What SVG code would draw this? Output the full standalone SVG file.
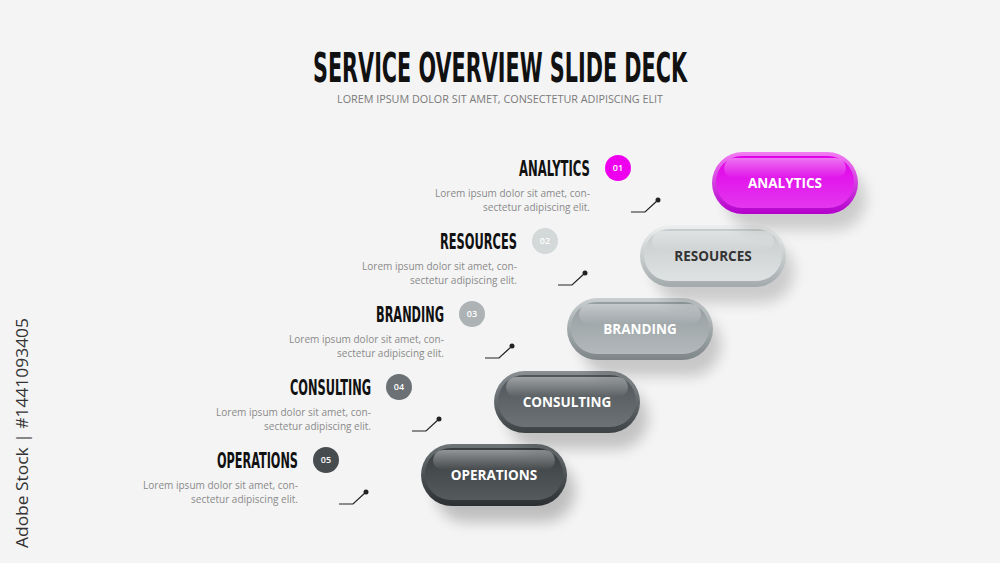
<svg xmlns="http://www.w3.org/2000/svg" width="1000" height="563" viewBox="0 0 1000 563">
<defs>
<style>
.title{font-family:"Liberation Sans Narrow","DejaVu Sans Condensed","Liberation Sans",sans-serif;font-weight:bold;fill:#111}
.sub{font-family:"Open Sans","Liberation Sans",sans-serif;font-size:10.5px;fill:#7a7a7a}
.head{font-family:"DejaVu Sans Condensed","DejaVu Sans",sans-serif;font-weight:bold;font-size:22px;fill:#111;text-anchor:end}
.desc{font-family:"Open Sans","Liberation Sans",sans-serif;font-size:10px;fill:#8a8a8a}
.num{font-family:"Open Sans","Liberation Sans",sans-serif;font-size:9px;font-weight:600;fill:#fff;text-anchor:middle}
.pl{font-family:"Open Sans","Liberation Sans",sans-serif;font-size:13.5px;font-weight:bold;text-anchor:middle}
.conn{fill:none;stroke:#222;stroke-width:1.2}
.wm{font-family:"Open Sans","Liberation Sans",sans-serif;font-size:16px;fill:#333}
</style>
<filter id="sh" x="-40%" y="-40%" width="200%" height="220%">
<feGaussianBlur stdDeviation="7"/>
</filter>
<linearGradient id="g1o" x1="0" y1="0" x2="0" y2="1"><stop offset="0" stop-color="#f27cf2"/><stop offset="1" stop-color="#b300cc"/></linearGradient>
<linearGradient id="g1i" x1="0" y1="0" x2="0" y2="1"><stop offset="0" stop-color="#e000e8"/><stop offset="1" stop-color="#e437ef"/></linearGradient>
<linearGradient id="g2o" x1="0" y1="0" x2="0" y2="1"><stop offset="0" stop-color="#eef0f0"/><stop offset="1" stop-color="#a3aaac"/></linearGradient>
<linearGradient id="g2i" x1="0" y1="0" x2="0" y2="1"><stop offset="0" stop-color="#c6cbcc"/><stop offset="1" stop-color="#dfe2e3"/></linearGradient>
<linearGradient id="g3o" x1="0" y1="0" x2="0" y2="1"><stop offset="0" stop-color="#c9cfd0"/><stop offset="1" stop-color="#7d8588"/></linearGradient>
<linearGradient id="g3i" x1="0" y1="0" x2="0" y2="1"><stop offset="0" stop-color="#959da0"/><stop offset="1" stop-color="#b3b9bb"/></linearGradient>
<linearGradient id="g4o" x1="0" y1="0" x2="0" y2="1"><stop offset="0" stop-color="#8a9093"/><stop offset="1" stop-color="#3c4144"/></linearGradient>
<linearGradient id="g4i" x1="0" y1="0" x2="0" y2="1"><stop offset="0" stop-color="#4f5558"/><stop offset="1" stop-color="#6c7275"/></linearGradient>
<linearGradient id="g5o" x1="0" y1="0" x2="0" y2="1"><stop offset="0" stop-color="#6e7477"/><stop offset="1" stop-color="#2b2f31"/></linearGradient>
<linearGradient id="g5i" x1="0" y1="0" x2="0" y2="1"><stop offset="0" stop-color="#3a3e41"/><stop offset="1" stop-color="#555a5d"/></linearGradient>
<linearGradient id="hl" x1="0" y1="0" x2="0" y2="1"><stop offset="0" stop-color="#fff" stop-opacity="0.45"/><stop offset="1" stop-color="#fff" stop-opacity="0"/></linearGradient>
</defs>
<rect width="1000" height="563" fill="#f4f4f4"/>
<text class="title" x="313" y="82" font-size="41" textLength="374" lengthAdjust="spacingAndGlyphs">SERVICE OVERVIEW SLIDE DECK</text>
<text class="sub" x="337" y="103" textLength="326" lengthAdjust="spacingAndGlyphs">LOREM IPSUM DOLOR SIT AMET, CONSECTETUR ADIPISCING ELIT</text>
<text class="wm" transform="translate(28,548) rotate(-90)" textLength="230" lengthAdjust="spacingAndGlyphs">Adobe Stock | #1441093405</text>

<g id="connectors">
<polyline class="conn" points="631,212 645,212 658,200"/><circle cx="658" cy="200" r="2.5" fill="#222"/>
<polyline class="conn" points="558,285 572,285 585,273"/><circle cx="585" cy="273" r="2.5" fill="#222"/>
<polyline class="conn" points="485,358 499,358 512,346"/><circle cx="512" cy="346" r="2.5" fill="#222"/>
<polyline class="conn" points="412,431 426,431 439,419"/><circle cx="439" cy="419" r="2.5" fill="#222"/>
<polyline class="conn" points="339,504 353,504 366,492"/><circle cx="366" cy="492" r="2.5" fill="#222"/>
</g>

<g id="label-01">
<text class="head" transform="translate(590,176) scale(0.57,1)" textLength="124.6" lengthAdjust="spacingAndGlyphs">ANALYTICS</text>
<circle cx="618" cy="168" r="13" fill="#ee00ee"/><text class="num" x="618" y="171">01</text>
<text class="desc" x="435" y="197" textLength="155" lengthAdjust="spacingAndGlyphs">Lorem ipsum dolor sit amet, con-</text>
<text class="desc" x="483" y="211" textLength="107" lengthAdjust="spacingAndGlyphs">sectetur adipiscing elit.</text>
</g>
<g id="label-02">
<text class="head" transform="translate(517,249) scale(0.57,1)" textLength="135.1" lengthAdjust="spacingAndGlyphs">RESOURCES</text>
<circle cx="545" cy="241" r="13" fill="#d3d8d9"/><text class="num" x="545" y="244">02</text>
<text class="desc" x="362" y="270" textLength="155" lengthAdjust="spacingAndGlyphs">Lorem ipsum dolor sit amet, con-</text>
<text class="desc" x="410" y="284" textLength="107" lengthAdjust="spacingAndGlyphs">sectetur adipiscing elit.</text>
</g>
<g id="label-03">
<text class="head" transform="translate(444,322) scale(0.57,1)" textLength="119.3" lengthAdjust="spacingAndGlyphs">BRANDING</text>
<circle cx="472" cy="314" r="13" fill="#adb3b5"/><text class="num" x="472" y="317">03</text>
<text class="desc" x="289" y="343" textLength="155" lengthAdjust="spacingAndGlyphs">Lorem ipsum dolor sit amet, con-</text>
<text class="desc" x="337" y="357" textLength="107" lengthAdjust="spacingAndGlyphs">sectetur adipiscing elit.</text>
</g>
<g id="label-04">
<text class="head" transform="translate(371,395) scale(0.57,1)" textLength="142.1" lengthAdjust="spacingAndGlyphs">CONSULTING</text>
<circle cx="399" cy="387" r="13" fill="#6b7174"/><text class="num" x="399" y="390">04</text>
<text class="desc" x="216" y="416" textLength="155" lengthAdjust="spacingAndGlyphs">Lorem ipsum dolor sit amet, con-</text>
<text class="desc" x="264" y="430" textLength="107" lengthAdjust="spacingAndGlyphs">sectetur adipiscing elit.</text>
</g>
<g id="label-05">
<text class="head" transform="translate(298,468) scale(0.57,1)" textLength="142.1" lengthAdjust="spacingAndGlyphs">OPERATIONS</text>
<circle cx="326" cy="460" r="13" fill="#474c4f"/><text class="num" x="326" y="463">05</text>
<text class="desc" x="143" y="489" textLength="155" lengthAdjust="spacingAndGlyphs">Lorem ipsum dolor sit amet, con-</text>
<text class="desc" x="191" y="503" textLength="107" lengthAdjust="spacingAndGlyphs">sectetur adipiscing elit.</text>
</g>

<g id="pill-05" transform="translate(421,444)">
<rect x="14" y="16" width="140" height="62" rx="31" fill="#000" opacity="0.22" filter="url(#sh)"/>
<rect width="146" height="62" rx="31" fill="url(#g5o)"/>
<rect x="4" y="4" width="138" height="52" rx="26" fill="url(#g5i)"/>
<rect x="12" y="6" width="122" height="20" rx="10" fill="url(#hl)"/>
<text class="pl" x="73" y="36" fill="#fff">OPERATIONS</text>
</g>
<g id="pill-04" transform="translate(494,371)">
<rect x="14" y="16" width="140" height="62" rx="31" fill="#000" opacity="0.2" filter="url(#sh)"/>
<rect width="146" height="62" rx="31" fill="url(#g4o)"/>
<rect x="4" y="4" width="138" height="52" rx="26" fill="url(#g4i)"/>
<rect x="12" y="6" width="122" height="20" rx="10" fill="url(#hl)"/>
<text class="pl" x="73" y="36" fill="#fff">CONSULTING</text>
</g>
<g id="pill-03" transform="translate(567,298)">
<rect x="14" y="16" width="140" height="62" rx="31" fill="#000" opacity="0.18" filter="url(#sh)"/>
<rect width="146" height="62" rx="31" fill="url(#g3o)"/>
<rect x="4" y="4" width="138" height="52" rx="26" fill="url(#g3i)"/>
<rect x="12" y="6" width="122" height="20" rx="10" fill="url(#hl)"/>
<text class="pl" x="73" y="36" fill="#fff">BRANDING</text>
</g>
<g id="pill-02" transform="translate(640,225)">
<rect x="14" y="16" width="140" height="62" rx="31" fill="#000" opacity="0.16" filter="url(#sh)"/>
<rect width="146" height="62" rx="31" fill="url(#g2o)"/>
<rect x="4" y="4" width="138" height="52" rx="26" fill="url(#g2i)"/>
<rect x="12" y="6" width="122" height="20" rx="10" fill="url(#hl)"/>
<text class="pl" x="73" y="36" fill="#333">RESOURCES</text>
</g>
<g id="pill-01" transform="translate(712,152)">
<rect x="14" y="16" width="140" height="62" rx="31" fill="#000" opacity="0.16" filter="url(#sh)"/>
<rect width="146" height="62" rx="31" fill="url(#g1o)"/>
<rect x="4" y="4" width="138" height="52" rx="26" fill="url(#g1i)"/>
<rect x="12" y="6" width="122" height="20" rx="10" fill="url(#hl)"/>
<text class="pl" x="73" y="36" fill="#fff">ANALYTICS</text>
</g>
</svg>
